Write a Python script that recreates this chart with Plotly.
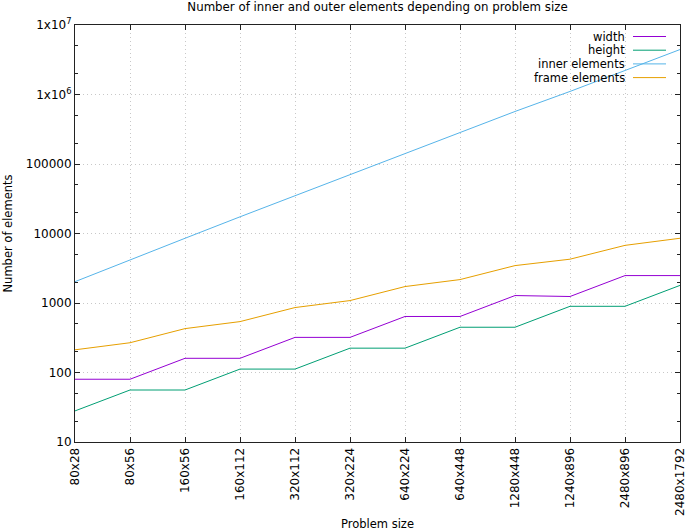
import plotly.graph_objects as go

categories = ["80x28", "80x56", "160x56", "160x112", "320x112", "320x224",
              "640x224", "640x448", "1280x448", "1240x896", "2480x896", "2480x1792"]
width_vals = [80, 80, 160, 160, 320, 320, 640, 640, 1280, 1240, 2480, 2480]
height_vals = [28, 56, 56, 112, 112, 224, 224, 448, 448, 896, 896, 1792]
inner_vals = [2028, 4212, 8532, 17380, 34980, 70596, 141636, 284548,
              569988, 1106772, 2215332, 4435620]
frame_vals = [212, 268, 428, 540, 860, 1084, 1724, 2172, 3452, 4268, 6748, 8540]

series_names = ["width", "height", "inner elements", "frame elements"]
series_vals = [width_vals, height_vals, inner_vals, frame_vals]
colors = ["#9400d3", "#009e73", "#56b4e9", "#e69f00"]

y_tickvals = [10, 100, 1000, 10000, 100000, 1e6, 1e7]
y_ticktext = ["10", "100", "1000", "10000", "100000", "1x10<sup>6</sup>", "1x10<sup>7</sup>"]

W, H = 685, 531
L, R, T, B = 75, 5, 25, 89
pw, ph = W - L - R, H - T - B

FONT = "DejaVu Sans, Liberation Sans, sans-serif"
AXC = "#222222"
GRIDC = "#c8c8c8"

fig = go.Figure()
for name, vals, c in zip(series_names, series_vals, colors):
    fig.add_trace(go.Scatter(x=categories, y=vals, mode="lines", name=name,
                             line=dict(color=c, width=1), showlegend=False))

# gnuplot-style key: text right-aligned, line sample to the right
def px2x(px):
    return (px - L) / pw

def py2y(py):
    return (H - B - py) / ph

row0, dy = 36.5, 13.7
for i, (name, c) in enumerate(zip(series_names, colors)):
    yy = py2y(row0 + i * dy)
    fig.add_annotation(x=px2x(627), y=yy, xref="paper", yref="paper",
                       text=name, showarrow=False, xanchor="right", yanchor="middle",
                       font=dict(size=11.5, color="#000000", family=FONT))
    fig.add_shape(type="line", xref="paper", yref="paper",
                  x0=px2x(633), x1=px2x(666), y0=yy, y1=yy,
                  line=dict(color=c, width=1))

fig.update_layout(
    width=W, height=H,
    margin=dict(l=L, r=R, t=T, b=B, autoexpand=False),
    paper_bgcolor="white", plot_bgcolor="white",
    font=dict(family=FONT, size=12, color="#000000"),
    title=dict(text="Number of inner and outer elements depending on problem size",
               x=(L + pw / 2) / W, xanchor="center", y=1 - 7 / H, yanchor="middle",
               font=dict(size=11.8)),
)

fig.update_xaxes(
    type="category", range=[0, len(categories) - 1], automargin=False,
    tickangle=-90, ticks="inside", ticklen=5, tickcolor=AXC,
    showline=True, linecolor=AXC, linewidth=1, mirror="ticks",
    showgrid=True, gridcolor=GRIDC, griddash="1px,3px", gridwidth=1,
    tickfont=dict(size=12),
    title=dict(text="Problem size", font=dict(size=11.5), standoff=8),
    zeroline=False,
)
fig.update_yaxes(
    type="log", range=[1, 7], automargin=False,
    tickvals=y_tickvals, ticktext=y_ticktext,
    ticks="inside", ticklen=5, tickcolor=AXC,
    minor=dict(ticks="inside", ticklen=3, tickcolor=AXC, showgrid=False),
    showline=True, linecolor=AXC, linewidth=1, mirror="ticks",
    showgrid=True, gridcolor=GRIDC, griddash="1px,3px", gridwidth=1,
    tickfont=dict(size=12),
    title=dict(text="Number of elements", font=dict(size=11.5), standoff=10),
    zeroline=False,
)

fig.write_html("out.html", config={"displayModeBar": False},
               post_script="document.body.style.margin='0';document.body.style.padding='0';")
